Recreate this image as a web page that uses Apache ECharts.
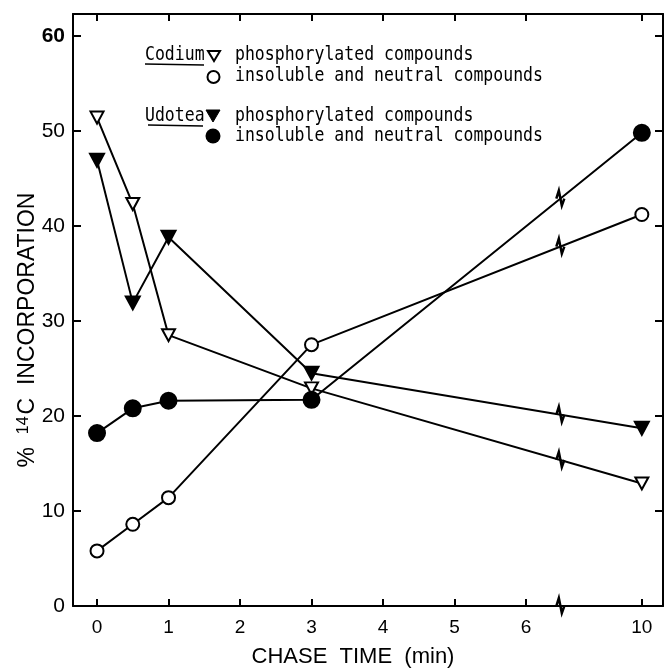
<!DOCTYPE html>
<html>
<head>
<meta charset="utf-8">
<script src="https://cdn.jsdelivr.net/npm/echarts@6/dist/echarts.min.js"></script>
<style>html,body{margin:0;padding:0;background:#fff}#main{width:665px;height:669px}</style>
</head>
<body>
<div id="main"></div>
<script>
// chase time (min) and % 14C incorporation
let times = [0, 0.5, 1, 3, 10];
let codiumPhos = [51.4, 42.3, 28.5, 22.9, 12.9];
let codiumInsol = [5.8, 8.6, 11.4, 27.5, 41.2];
let udoteaPhos = [46.9, 31.9, 38.8, 24.5, 18.7];
let udoteaInsol = [18.2, 20.8, 21.6, 21.7, 49.8];
let xTicks = [0, 1, 2, 3, 4, 5, 6, 10];
let yTicks = [0, 10, 20, 30, 40, 50, 60];

// broken time axis: 10 min sits at 7.62, the break mark at 6.48
let TEN_POS = 7.62, BREAK_POS = 6.48;
function xpos(t) { return t > 6 ? TEN_POS - (10 - t) : t; }
function unpos(v) { return v > 7 ? 10 : Math.round(v); }

let font = 'Liberation Sans';
let mono = 'DejaVu Sans Mono';

let myChart = echarts.init(document.getElementById('main'));

function pts(arr) {
    return arr.map(function (v, i) { return [xpos(times[i]), v]; });
}

// break marks on each line between 3 and 10 min, plus one on the axis
let breakData = [codiumPhos, codiumInsol, udoteaPhos, udoteaInsol].map(function (s) {
    return [xpos(times[3]), s[3], xpos(times[4]), s[4]];
});
breakData.push([BREAK_POS, 0, BREAK_POS, 0]);

function lineSeries(name, data, symbol, size, fill) {
    return {
        name: name,
        type: 'line',
        data: pts(data),
        symbol: symbol,
        symbolSize: size,
        symbolRotate: symbol === 'triangle' ? 180 : 0,
        showAllSymbol: true,
        lineStyle: {color: '#000', width: 2},
        itemStyle: {color: fill, borderColor: '#000', borderWidth: 2},
        z: fill === '#fff' ? 3 : 4
    };
}

let axisLine = {show: true, onZero: false, lineStyle: {color: '#000', width: 2}};
let tickStyle = {color: '#000', width: 2};

function legendText(txt, x, y) {
    return {type: 'text', x: x, y: y, scaleY: 1.15,
        style: {text: txt, fontFamily: mono, fontSize: 16.5, fill: '#000', verticalAlign: 'middle'}};
}

let option = {
    backgroundColor: '#fff',
    animation: false,
    grid: {left: 73, right: 2, top: 14, bottom: 63, outerBoundsMode: 'none'},
    xAxis: [{
        type: 'value',
        min: -0.336, max: 7.916,
        position: 'bottom',
        axisLine: axisLine,
        splitLine: {show: false},
        axisTick: {inside: true, length: 7, lineStyle: tickStyle, customValues: xTicks.map(xpos)},
        axisLabel: {
            customValues: xTicks.map(xpos),
            formatter: function (v) { return String(unpos(v)); },
            color: '#000', fontFamily: font, fontSize: 19, margin: 12
        },
        name: 'CHASE  TIME  (min)',
        nameLocation: 'middle',
        nameGap: 40,
        nameMoveOverlap: false,
        nameTextStyle: {color: '#000', fontFamily: font, fontSize: 22, padding: [0, 30, 0, 0]}
    }, {
        type: 'value',
        min: -0.336, max: 7.916,
        position: 'top',
        axisLine: axisLine,
        splitLine: {show: false},
        axisTick: {inside: true, length: 7, lineStyle: tickStyle, customValues: xTicks.map(xpos)},
        axisLabel: {show: false}
    }],
    yAxis: [{
        type: 'value',
        min: 0, max: 62.3,
        position: 'left',
        axisLine: axisLine,
        splitLine: {show: false},
        axisTick: {inside: true, length: 8, lineStyle: tickStyle, customValues: yTicks},
        axisLabel: {
            customValues: yTicks,
            formatter: function (v) { return v === 60 ? '{b|60}' : String(v); },
            color: '#000', fontFamily: font, fontSize: 21, margin: 8,
            rich: {b: {fontFamily: font, fontSize: 21, fontWeight: 'bold', color: '#000'}}
        },
        name: '%  {s|14}C  INCORPORATION',
        nameLocation: 'middle',
        nameGap: 34,
        nameMoveOverlap: false,
        nameTextStyle: {
            color: '#000', fontFamily: font, fontSize: 23, padding: [0, 40, 0, 0],
            rich: {s: {fontFamily: font, fontSize: 16, verticalAlign: 'top', color: '#000', padding: [0, 2, 6, 0]}}
        }
    }, {
        type: 'value',
        min: 0, max: 62.3,
        position: 'right',
        axisLine: axisLine,
        splitLine: {show: false},
        axisTick: {inside: true, length: 8, lineStyle: tickStyle, customValues: yTicks},
        axisLabel: {show: false}
    }],
    graphic: [
        legendText('Codium', 145, 55),
        {type: 'line', shape: {x1: 145, y1: 64, x2: 204, y2: 65}, style: {stroke: '#000', lineWidth: 1.5}},
        {type: 'polygon', shape: {points: [[208, 51], [220, 51], [214, 61]]}, style: {fill: '#fff', stroke: '#000', lineWidth: 2}},
        legendText('phosphorylated compounds', 235, 55),
        {type: 'circle', shape: {cx: 213.5, cy: 77, r: 6}, style: {fill: '#fff', stroke: '#000', lineWidth: 2}},
        legendText('insoluble and neutral compounds', 235, 76),
        legendText('Udotea', 145, 116),
        {type: 'line', shape: {x1: 148, y1: 125, x2: 203, y2: 126}, style: {stroke: '#000', lineWidth: 1.5}},
        {type: 'polygon', shape: {points: [[206, 110], [220, 110], [213, 122]]}, style: {fill: '#000', stroke: '#000', lineWidth: 1}},
        legendText('phosphorylated compounds', 235, 116),
        {type: 'circle', shape: {cx: 213, cy: 136, r: 7.5}, style: {fill: '#000'}},
        legendText('insoluble and neutral compounds', 235, 136)
    ],
    series: [
        lineSeries('Codium phosphorylated', codiumPhos, 'triangle', [13, 12], '#fff'),
        lineSeries('Codium insoluble', codiumInsol, 'circle', 13, '#fff'),
        lineSeries('Udotea phosphorylated', udoteaPhos, 'triangle', [14, 13], '#000'),
        lineSeries('Udotea insoluble', udoteaInsol, 'circle', 16, '#000'),
        {
            type: 'custom',
            data: breakData,
            encode: {x: [0, 2], y: [1, 3]},
            clip: false,
            z: 5,
            renderItem: function (params, api) {
                let p1 = api.coord([api.value(0), api.value(1)]);
                let p2 = api.coord([api.value(2), api.value(3)]);
                let bx = api.coord([BREAK_POS, 0])[0];
                let f = p2[0] === p1[0] ? 0 : (bx - p1[0]) / (p2[0] - p1[0]);
                let by = p1[1] + f * (p2[1] - p1[1]);
                return {
                    type: 'polyline',
                    shape: {points: [[bx - 4, by], [bx - 1.5, by - 8], [bx + 1.5, by + 7], [bx + 4, by]]},
                    style: {stroke: '#000', lineWidth: 2.5, fill: null}
                };
            }
        }
    ]
};

myChart.setOption(option);
</script>
</body>
</html>
